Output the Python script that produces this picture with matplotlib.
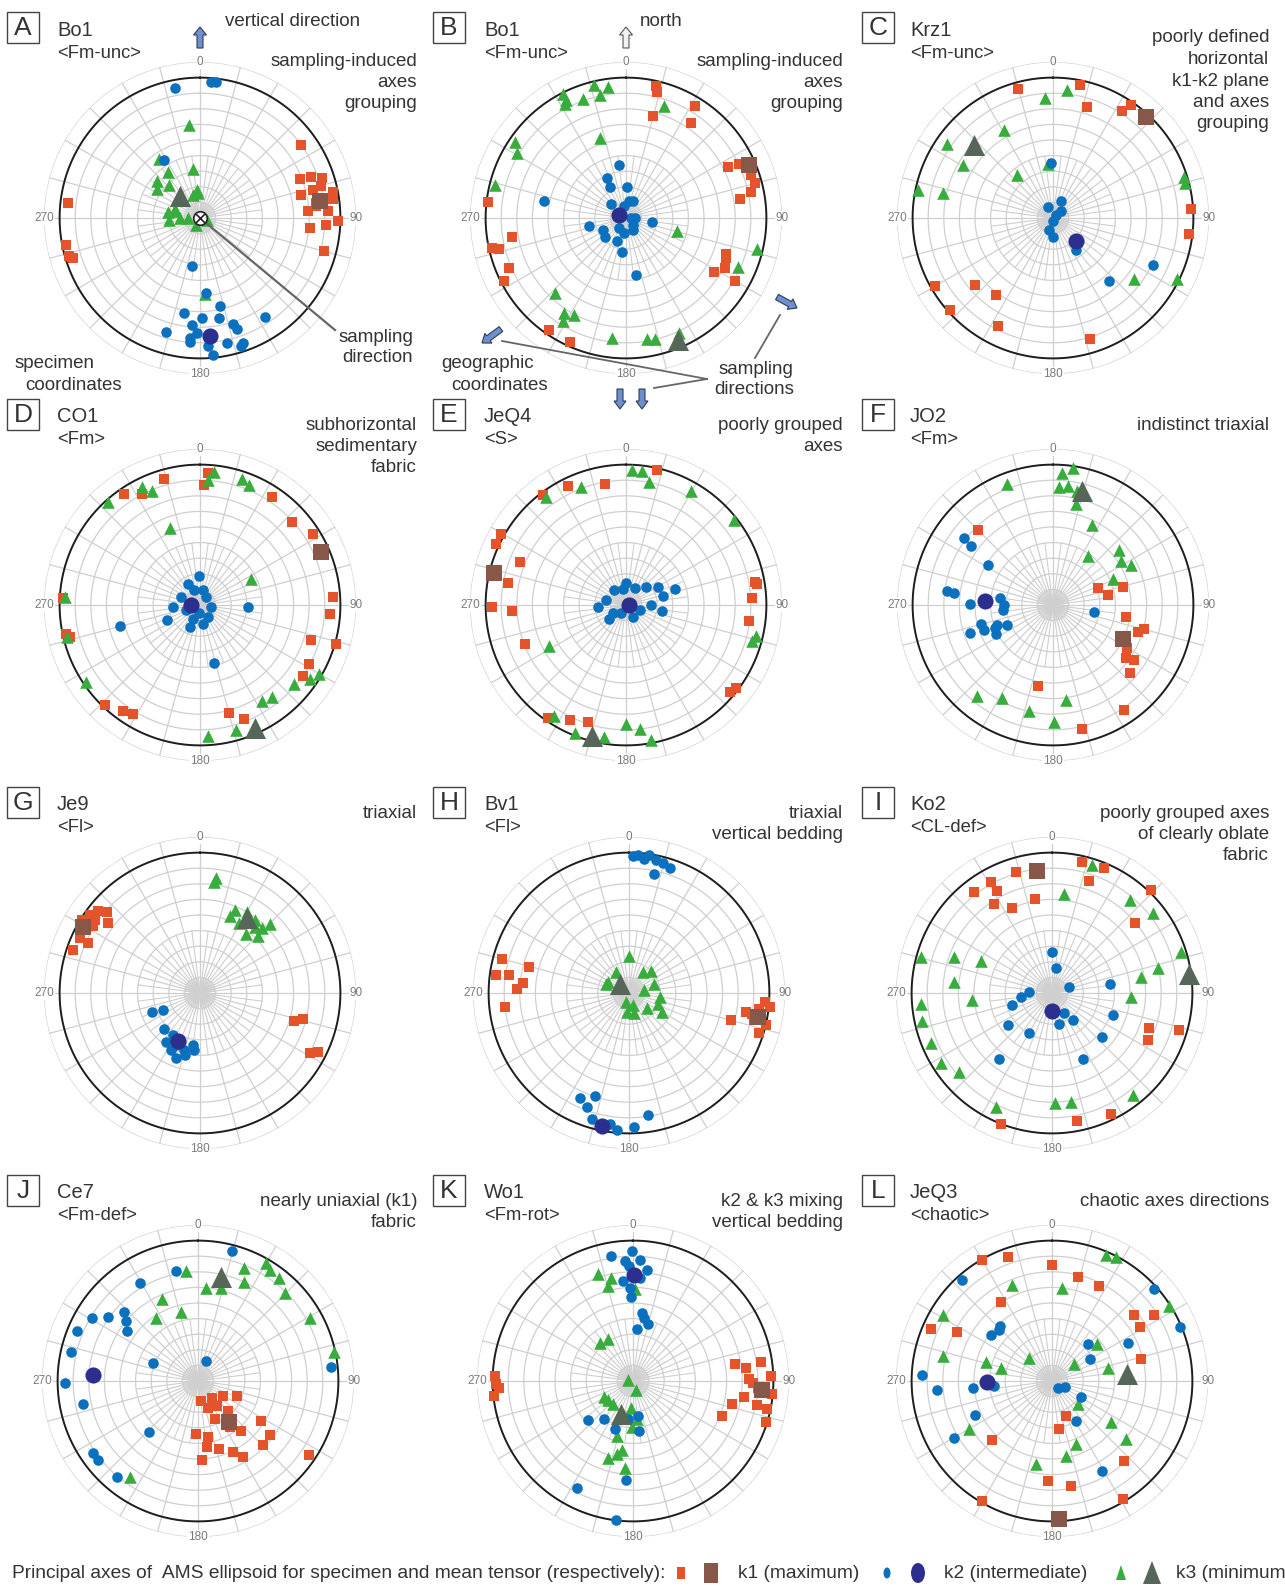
import numpy as np
import matplotlib
matplotlib.use('Agg')
import matplotlib.pyplot as plt
from matplotlib.patches import Rectangle, Ellipse, Polygon, FancyArrow

plt.rcParams['font.family'] = ['Liberation Sans', 'DejaVu Sans']

W, H = 1285, 1587
TXT = '#333333'
GRID = '#cfcfcf'
COL_K1, COL_K1M = '#e5532b', '#87584a'
COL_K2, COL_K2M = '#0b70be', '#2d2f8f'
COL_K3, COL_K3M = '#38ad3d', '#566658'

# principal axes per site: (azimuth in degrees, radial position 0-100, primitive at 90)
# means are listed as [k1, k2, k3]
A_K1 = [(54, 80), (69, 69), (70, 76), (72, 82), (76, 74.5), (77, 66.6), (79, 86.7), (86.5, 69.3), (87, 82),
        (91.4, 88.3), (93, 81), (95, 71), (105, 82.6), (75, 80), (82.7, 75), (82, 86), (84, 75),
        (276.5, 85), (258.5, 87.5), (253.8, 87.5), (252.6, 85)]
A_K2 = [(349, 85), (4.5, 87.5), (6.7, 88), (328, 44), (189, 31), (175.6, 48), (167, 58), (189.4, 61.5), (179, 64),
        (169, 65), (146.7, 76), (184, 69), (162.6, 71), (161.4, 75), (181.7, 73.5), (196.5, 76.5), (184.8, 77),
        (184.6, 79.5), (168, 82), (160.9, 84.5), (162, 86), (176.3, 82), (174.5, 88)]
A_K3 = [(353, 60), (325.6, 46), (325.8, 36), (351.7, 32), (310.7, 36), (317, 29), (304, 33.4), (353, 18),
        (342.5, 15.6), (285, 16.5), (267, 20), (270, 12.8), (270, 8), (209, 5.3), (104, 4.4), (176, 49),
        (356, 16), (290, 17), (280, 21)]
A_MEAN = [(82, 78), (175, 76), (317, 19)]

B_K1 = [(12.7, 87), (13.9, 83), (15, 67.6), (31.6, 84), (34.2, 73.8), (63.2, 73), (64.4, 80), (70.9, 84.5),
        (74.9, 85.5), (78.4, 81.5), (80.4, 74), (110, 68), (112, 69), (116.8, 70.8), (121.6, 66), (120, 80.4),
        (276.8, 89), (260.4, 73.8), (257.5, 88), (256.4, 84), (247, 81.5), (242.7, 88), (214.5, 87), (204.4, 87.6)]
B_K2 = [(352, 34.4), (334.6, 28.7), (333, 22), (2.5, 19.6), (281.7, 54), (313, 13), (352, 8), (9, 11), (22, 11.5),
        (90, 3.2), (92, 6), (99.5, 16.8), (257.4, 24.4), (241.4, 16.5), (228, 18.5), (213.7, 7.7), (201, 16),
        (189, 9.6), (150, 8.6), (132, 6.3), (186.7, 21.9), (170, 37)]
B_K3 = [(333, 89), (333, 85), (332, 83), (340.3, 81), (346.6, 87.5), (352, 84.5), (348, 80.5), (18.7, 76),
        (342, 53.6), (304.5, 86), (301, 81.5), (284, 86.6), (104.5, 34), (103.5, 86.4), (113.6, 78.5),
        (223.4, 66), (213.4, 72.6), (208.3, 70.8), (211.5, 77.4), (186.6, 77.7), (170, 79), (166.5, 80), (155, 81)]
B_MEAN = [(66.8, 86), (294, 5.1), (156.7, 85)]

C_K1 = [(344.7, 86), (11.4, 87), (16.8, 74.4), (32.8, 81.7), (34.6, 88), (86.1, 88.7), (96.5, 87.8), (240, 87),
        (229.3, 66), (216.6, 61.5), (228.4, 88.7), (207, 77.5), (162.8, 81)]
C_K2 = [(357.6, 35), (24.7, 11.7), (337, 8), (180, 2), (45, 3), (199, 8), (46, 6.8), (180, 12.3), (144.4, 25),
        (137.9, 54), (115.3, 70.6)]
C_K3 = [(6.3, 82.8), (356, 77.4), (331, 64.5), (305, 83), (300.5, 67), (320, 36), (355, 35), (281.8, 88.5),
        (282.8, 72), (72.5, 88.3), (75, 87.7), (127.3, 65), (116.4, 88.6)]
C_MEAN = [(42.6, 88), (135, 21), (312.9, 68.8)]

D_K1 = [(3.6, 85), (2, 77), (344, 83.8), (332.3, 80.4), (325.6, 86), (272.8, 87.7), (33.8, 83), (48, 79.5),
        (58, 85.7), (86.5, 85.3), (94, 83.3), (107.8, 74.4), (106.2, 90.6), (118.2, 79.6), (124.7, 80),
        (164.8, 72), (159, 78), (223.5, 88.6), (216, 84), (211.4, 82), (258, 88), (256, 86)]
D_K2 = [(358, 18.8), (330, 15.7), (338, 10.5), (11, 10), (37, 6.5), (292, 13), (266, 17.6), (250, 9.6),
        (187, 5.3), (207, 10), (146, 9.4), (100, 7.3), (171, 12.5), (204, 15.7), (245.6, 23.5), (255, 53),
        (166, 38), (92.4, 30.5)]
D_K3 = [(3.8, 80.3), (333.8, 84.6), (337, 79.5), (318.4, 88.5), (338.6, 52.8), (273.5, 87), (18.3, 84.8),
        (22, 83), (63, 37), (147.3, 73), (142, 75), (130, 79), (124, 85), (120, 88), (235.8, 88), (256.3, 87.6),
        (164, 83.6), (176.5, 84), (6, 86)]
D_MEAN = [(66.4, 84.4), (270, 6), (156, 86.6)]

E_K1 = [(13, 89), (350, 78.5), (334.2, 85), (323, 88.6), (299.6, 91.9), (295, 91.8), (291.8, 73.4), (280.6, 77),
        (269, 86), (267, 73), (249, 69.5), (79.7, 84), (81, 85), (86.8, 80.6), (97.5, 79.3), (127, 88.5),
        (129.9, 87), (214.5, 88), (205.8, 82), (198.1, 79)]
E_K2 = [(0, 14), (349, 10.6), (321, 12.5), (28, 12.5), (48, 17.5), (60.6, 23.8), (71.6, 32.8), (76, 24.7),
        (266, 18), (238, 9.9), (230.5, 14), (212, 6), (150, 9), (110, 9.6), (99.5, 23.7), (90, 16.2), (284, 13.4)]
E_K3 = [(2.6, 86.5), (7, 86.5), (10.8, 80), (339, 81), (323.6, 86), (29.7, 84), (51.6, 88), (103.6, 85.5),
        (106, 84), (242.2, 55.8), (213, 84.5), (201.6, 88), (189.6, 85.6), (180, 76.6), (173.5, 79.7), (169.4, 88)]
E_MEAN = [(283.8, 87), (90, 2), (194.7, 87)]

F_K1 = [(315, 68), (68.9, 30.6), (75.4, 46.3), (99.5, 47.4), (105, 60.5), (108, 57), (113, 51), (120, 55),
        (126, 58), (131.4, 65.8), (190.6, 52.8), (145.8, 81), (166.6, 81.5), (80, 36), (124, 63)]
F_K2 = [(306.9, 71.4), (305.6, 64.7), (301.4, 48.7), (277.6, 68.8), (277, 64), (277.7, 34), (270, 31.5),
        (264, 32), (270.7, 53), (250, 47), (250, 38), (248, 40), (242.6, 41), (246, 32), (251, 56), (255, 48),
        (100, 26.4)]
F_K3 = [(8.4, 88.6), (4, 85), (7.2, 77), (3, 75.5), (12, 75), (339.4, 83), (13, 66.6), (25.7, 57), (36, 38.6),
        (49.8, 55), (66.2, 42), (63, 56), (57, 52), (219.8, 76), (208.5, 68), (192.9, 70), (179.5, 74.7),
        (172, 61.6)]
F_MEAN = [(116.2, 50), (273.4, 43.6), (14, 75.6)]

G_K1 = [(308.8, 83.6), (310.8, 79), (305.5, 86.6), (307.4, 74), (302, 80.6), (301.8, 89), (294.6, 84.6),
        (294, 78.4), (288.9, 86), (305, 82), (106.8, 63), (104, 68), (118.6, 80.3), (116.8, 84.5)]
G_K2 = [(247.9, 33), (245.6, 25.8), (224.7, 32.5), (212.6, 31.7), (207.4, 40.9), (200.3, 44.4), (193.5, 41),
        (188, 33.5), (186, 36.5), (215, 38), (205, 37), (196, 38)]
G_K3 = [(7.8, 74.4), (7, 72), (22.8, 58), (21.4, 52.8), (29.3, 51.5), (37.7, 47.8), (36.9, 58.8), (43.5, 57.5),
        (45.3, 63), (45.8, 52), (40, 55), (30, 60)]
G_MEAN = [(299.7, 86), (204, 34), (32.3, 56.8)]

H_K1 = [(285, 84.5), (277.8, 86), (278.7, 77.5), (284.7, 66.5), (275.4, 68.5), (272, 72), (263.5, 79.8),
        (93.8, 87.2), (99.8, 79.7), (99.4, 75.7), (105, 67.9), (103.3, 90), (107, 86.9), (95.8, 91), (97, 84),
        (102, 82)]
H_K2 = [(3.8, 88.5), (6.5, 86.3), (8.4, 89.3), (11.6, 86.9), (14.9, 86), (18.4, 84.2), (12, 78.3), (1.7, 88),
        (198, 69.6), (204.8, 74.4), (200, 78), (196.6, 84), (188.4, 84.7), (177.8, 85.8), (171, 79.5), (185, 88)]
H_K3 = [(0, 24), (328, 16), (297.6, 15.4), (33.7, 16.4), (45, 20), (290, 16), (200, 6), (160, 8), (80, 10),
        (70, 17.3), (97, 20.3), (110, 20), (120, 24.7), (130, 15), (186, 12.4), (165, 13)]
H_MEAN = [(100.7, 84), (191.6, 86.9), (315, 8.3)]

I_K1 = [(343.2, 80.7), (331.4, 81.3), (335, 60), (331.9, 74.4), (322.4, 82), (350, 61.3), (13.1, 86),
        (22.4, 87), (18.4, 76), (49.9, 69.6), (44, 91.4), (110, 66.4), (115.8, 68.5), (106.5, 84.6), (154, 86),
        (168.8, 83.4), (201.2, 90), (327, 68)]
I_K2 = [(10, 16), (70.6, 11.7), (272.5, 15), (253.3, 27), (262, 20), (234, 35), (210.5, 29.4), (167, 20.6),
        (142, 22.2), (150, 15), (81, 37.5), (110, 41.5), (131.3, 43), (154.5, 46.8), (218.7, 54), (0, 26)]
I_K3 = [(17.6, 85.8), (7, 64), (51.7, 82.7), (72.5, 86.5), (77, 70), (79.7, 58), (93, 50.7), (285.6, 87),
        (290.4, 67), (293.9, 50), (276.5, 63.4), (264.9, 51.5), (265, 84), (258, 85), (247.8, 84), (237.9, 84.3),
        (229.7, 78.3), (178.4, 70.8), (170, 71), (141.6, 83.6), (206, 81.6), (40, 78)]
I_MEAN = [(353, 79), (180, 11.7), (82, 88.5)]

J_K1 = [(171.5, 13.1), (140.5, 14.3), (159.7, 18.7), (142.8, 20.4), (121, 18.9), (111, 27), (135, 27.5),
        (155.9, 27), (182.2, 33.8), (169.7, 36.3), (144.6, 35.8), (139.4, 41.9), (122.8, 47.9), (126.7, 57.5),
        (134.5, 58.3), (149.6, 56.5), (172, 42.6), (177, 50.7), (162.6, 45.6), (123.6, 85.7), (153.4, 50.8)]
J_K2 = [(329.6, 73), (300.6, 79), (305.3, 70.8), (313, 64.8), (292.2, 84), (283, 83.3), (269, 85), (305, 55.5),
        (292, 30.9), (22, 14), (84, 86), (258.5, 75), (223.8, 45), (235.7, 81.8), (231.8, 81.8), (220, 80.6),
        (348.6, 72), (14.9, 86), (310, 60)]
J_K3 = [(353.7, 71), (21.9, 78.4), (29.8, 87.5), (33, 85), (38, 84), (44.7, 79.4), (14, 61.6), (60.8, 82.6),
        (78, 89), (336.6, 57.3), (346, 45.5), (326.5, 48.3), (215.2, 75.5), (25, 70), (5, 60)]
J_MEAN = [(142.2, 32.9), (273.3, 67.6), (12.6, 68.5)]

K_K1 = [(272, 88.7), (268.6, 88), (267, 86), (263.8, 89.6), (80.7, 66.3), (83.3, 73), (81.4, 82.8), (87.9, 88.3),
        (89, 74.4), (98.2, 71.9), (102.9, 65), (111.5, 61.1), (100.9, 81.2), (101.9, 88), (107, 89), (95.5, 89.7),
        (91, 77), (93, 80)]
K_K2 = [(359.4, 83.3), (350.2, 81.3), (356, 77), (3.3, 77.7), (358, 73.7), (7.4, 71.7), (3.7, 66.4),
        (354.5, 64.4), (358, 59.9), (358.4, 54), (7.8, 44.2), (9.9, 41.2), (15.1, 37.6), (4.8, 33.2),
        (228.6, 38.1), (217.6, 30.5), (171.9, 22.7), (187, 24.7), (201, 32.7), (173, 32.3), (184.2, 63.8),
        (207.7, 77.7), (186.8, 90)]
K_K3 = [(342, 71.9), (347.7, 67.4), (345.3, 63), (1, 58.8), (319.3, 32.4), (329.4, 31.5), (277, 3.2), (164, 6.2),
        (241, 21.2), (232, 20), (220, 19.6), (185, 17.2), (173.5, 24.7), (180.8, 29.5), (195.9, 36.7),
        (188.7, 45), (192, 48), (197.9, 52), (185.5, 55.8)]
K_MEAN = [(94, 83.1), (0.5, 68), (200.7, 22.4)]

L_K1 = [(329.9, 89.4), (340.6, 84), (0, 74.1), (14.2, 68.8), (26.6, 67.8), (327.2, 60.3), (293.1, 84.3),
        (297.3, 68.5), (51.3, 67.6), (57.2, 78), (58.5, 66.2), (76.3, 58.7), (158.2, 24.2), (171.3, 30.9),
        (225.3, 54.1), (137.9, 69.1), (182.5, 64.2), (169.7, 68.4), (210.3, 89), (149.2, 88.4)]
L_K2 = [(318.2, 86.9), (47.9, 88.4), (316.8, 48.3), (314, 47), (306.8, 48.8), (67.2, 89.3), (44.2, 32.8),
        (63.5, 54.2), (60.3, 28), (272.5, 83.6), (265.5, 73.9), (265.2, 51), (265, 37), (139.6, 5.6),
        (114.8, 9.2), (118.9, 21.2), (245.9, 53.8), (149, 29.9), (240, 72.8), (151, 66)]
L_K3 = [(23.2, 87.9), (27.2, 89.6), (337.2, 66.8), (6.1, 60.2), (57.3, 88.9), (301.1, 81.4), (283, 71.5),
        (286, 44), (284, 33.7), (315, 21.2), (50.8, 37.2), (51.3, 17.8), (76.5, 36.7), (130.7, 22.3),
        (124.8, 46), (128.3, 60.4), (159, 43), (169.4, 48.9), (191, 54), (239.7, 61.4)]
L_MEAN = [(177, 88.4), (269, 41.9), (84.9, 48)]

# panel labels
LETTERS = list('ABCDEFGHIJKL')
SITES = ['Bo1', 'Bo1', 'Krz1', 'CO1', 'JeQ4', 'JO2', 'Je9', 'Bv1', 'Ko2', 'Ce7', 'Wo1', 'JeQ3']
CLASSES = ['<Fm-unc>', '<Fm-unc>', '<Fm-unc>', '<Fm>', '<S>', '<Fm>', '<Fl>', '<Fl>', '<CL-def>',
           '<Fm-def>', '<Fm-rot>', '<chaotic>']
NOTES = [['sampling-induced', 'axes', 'grouping'],
         ['sampling-induced', 'axes', 'grouping'],
         ['poorly defined', 'horizontal', 'k1-k2 plane', 'and axes', 'grouping'],
         ['subhorizontal', 'sedimentary', 'fabric'],
         ['poorly grouped', 'axes'],
         ['indistinct triaxial'],
         ['triaxial'],
         ['triaxial', 'vertical bedding'],
         ['poorly grouped axes', 'of clearly oblate', 'fabric'],
         ['nearly uniaxial (k1)', 'fabric'],
         ['k2 & k3 mixing', 'vertical bedding'],
         ['chaotic axes directions']]
K1_SETS = [A_K1, B_K1, C_K1, D_K1, E_K1, F_K1, G_K1, H_K1, I_K1, J_K1, K_K1, L_K1]
K2_SETS = [A_K2, B_K2, C_K2, D_K2, E_K2, F_K2, G_K2, H_K2, I_K2, J_K2, K_K2, L_K2]
K3_SETS = [A_K3, B_K3, C_K3, D_K3, E_K3, F_K3, G_K3, H_K3, I_K3, J_K3, K_K3, L_K3]
MEANS = [A_MEAN, B_MEAN, C_MEAN, D_MEAN, E_MEAN, F_MEAN, G_MEAN, H_MEAN, I_MEAN, J_MEAN, K_MEAN, L_MEAN]

# layout in pixels
ROW_Y = [218, 605, 993, 1381]
CENTER_X = [[200, 626, 1053], [200, 626, 1053], [200, 629, 1052], [198, 633, 1052]]
BOX_X = [7, 433, 862]
NAME_X = [57, 484, 910]
NOTE_X = [417, 843, 1269]
R_PX = 156

fig = plt.figure(figsize=(W / 100, H / 100), dpi=100)
ov = fig.add_axes([0, 0, 1, 1], zorder=5)
ov.set_xlim(0, W)
ov.set_ylim(H, 0)
ov.axis('off')


def polar_net(ax):
    th = np.linspace(0, 2 * np.pi, 361)
    for rr in range(10, 101, 10):
        ax.plot(th, np.full_like(th, rr), color=GRID, lw=0.9, zorder=1)
    for a in np.arange(0, 360, 15):
        ax.plot([np.radians(a)] * 2, [0, 100], color=GRID, lw=0.9, zorder=1)
    for a in np.arange(7.5, 360, 15):
        ax.plot([np.radians(a)] * 2, [0, 40], color=GRID, lw=0.8, zorder=1)
    for a in np.arange(0, 360, 5):
        ax.plot([np.radians(a)] * 2, [0, 10], color=GRID, lw=0.45, zorder=1)
    ax.plot(th, np.full_like(th, 90), color='#1e1e1e', lw=1.4, zorder=2)
    for ang, lab in zip([0, 90, 180, 270], ['0', '90', '180', '270']):
        ax.text(np.radians(ang), 100, lab, ha='center', va='center', fontsize=8.5, color='#7a7a7a',
                bbox=dict(fc='white', ec='none', pad=0.6), zorder=3)


def pts(data):
    a = np.array(data, dtype=float)
    return np.radians(a[:, 0]), a[:, 1]


for i in range(12):
    row, col = divmod(i, 3)
    cx, cy = CENTER_X[row][col], ROW_Y[row]
    ax = fig.add_axes([(cx - R_PX) / W, (H - cy - R_PX) / H, 2 * R_PX / W, 2 * R_PX / H],
                      projection='polar', zorder=2)
    ax.set_theta_zero_location('N')
    ax.set_theta_direction(-1)
    ax.set_ylim(0, 100)
    ax.grid(False)
    ax.set_xticks([])
    ax.set_yticks([])
    ax.spines['polar'].set_visible(False)
    ax.patch.set_alpha(0)
    polar_net(ax)

    t, r = pts(K1_SETS[i])
    ax.scatter(t, r, marker='s', s=62, c=COL_K1, linewidths=0, clip_on=False, zorder=4)
    t, r = pts(K3_SETS[i])
    ax.scatter(t, r, marker='^', s=82, c=COL_K3, linewidths=0, clip_on=False, zorder=5)
    t, r = pts(K2_SETS[i])
    ax.scatter(t, r, marker='o', s=58, c=COL_K2, linewidths=0, clip_on=False, zorder=6)
    m = MEANS[i]
    ax.scatter(np.radians(m[0][0]), m[0][1], marker='s', s=135, c=COL_K1M, linewidths=0, clip_on=False, zorder=7)
    ax.scatter(np.radians(m[2][0]), m[2][1], marker='^', s=230, c=COL_K3M, linewidths=0, clip_on=False, zorder=7)
    ax.scatter(np.radians(m[1][0]), m[1][1], marker='o', s=135, c=COL_K2M, linewidths=0, clip_on=False, zorder=8)

    # header texts
    ov.add_patch(Rectangle((BOX_X[col], cy - 206), 32, 31, fc='white', ec='#444444', lw=1.0))
    ov.text(BOX_X[col] + 16, cy - 190, LETTERS[i], ha='center', va='center', fontsize=19, color=TXT)
    ov.text(NAME_X[col], cy - 188, SITES[i], ha='left', va='center', fontsize=14.5, color=TXT)
    ov.text(NAME_X[col], cy - 165, CLASSES[i], ha='left', va='center', fontsize=13.2, color=TXT)
    y0 = cy - 157 if i < 2 else cy - 180
    for j, line in enumerate(NOTES[i]):
        ov.text(NOTE_X[col], y0 + 21.5 * j, line, ha='right', va='center', fontsize=13.5, color=TXT)

# panel A extras: vertical direction, sampling direction, coordinates
ov.add_patch(FancyArrow(200, 48, 0, -21, width=6, head_width=13, head_length=8, length_includes_head=True,
                        fc='#6d8fcb', ec='#2f3d5a', lw=0.8))
ov.text(225, 21, 'vertical direction', ha='left', va='center', fontsize=13.5, color=TXT)
ov.plot([200, 335], [218, 330], color='#666666', lw=1.6, zorder=6)
ov.scatter([200], [218], s=95, marker='o', facecolors='white', edgecolors='#222222', linewidths=1.2, zorder=7)
ov.scatter([200], [218], s=40, marker='x', c='#222222', linewidths=1.2, zorder=8)
ov.text(413, 337, 'sampling', ha='right', va='center', fontsize=13.5, color=TXT)
ov.text(413, 357, 'direction', ha='right', va='center', fontsize=13.5, color=TXT)
ov.text(55, 364, 'specimen', ha='center', va='center', fontsize=13.5, color=TXT)
ov.text(74, 385, 'coordinates', ha='center', va='center', fontsize=13.5, color=TXT)

# panel B extras: north, sampling directions, coordinates
ov.add_patch(FancyArrow(626, 48, 0, -21, width=6, head_width=13, head_length=8, length_includes_head=True,
                        fc='#f2f2f2', ec='#555555', lw=0.8))
ov.text(640, 21, 'north', ha='left', va='center', fontsize=13.5, color=TXT)
arrow_kw = dict(width=6, head_width=12, head_length=8, length_includes_head=True, fc='#6d8fcb', ec='#2f3d5a', lw=0.8)
ov.add_patch(FancyArrow(777, 297, 20, 11, **arrow_kw))
ov.add_patch(FancyArrow(501, 329, -19, 14, **arrow_kw))
ov.add_patch(FancyArrow(620, 389, 0, 20, **arrow_kw))
ov.add_patch(FancyArrow(642, 389, 0, 20, **arrow_kw))
ov.plot([502, 707], [341, 379], color='#666666', lw=1.3)
ov.plot([654, 707], [388, 379], color='#666666', lw=1.3)
ov.plot([755, 780], [358, 315], color='#666666', lw=1.3)
ov.text(488, 364, 'geographic', ha='center', va='center', fontsize=13.5, color=TXT)
ov.text(500, 385, 'coordinates', ha='center', va='center', fontsize=13.5, color=TXT)
ov.text(756, 369, 'sampling', ha='center', va='center', fontsize=13.5, color=TXT)
ov.text(754, 389, 'directions', ha='center', va='center', fontsize=13.5, color=TXT)

# legend line at the bottom
LY = 1573
ov.text(12, LY, 'Principal axes of  AMS ellipsoid for specimen and mean tensor (respectively):',
        ha='left', va='center', fontsize=13.8, color=TXT)
ov.add_patch(Rectangle((677, LY - 6), 8, 12, fc=COL_K1, ec='none'))
ov.add_patch(Rectangle((704, LY - 10), 14, 20, fc=COL_K1M, ec='none'))
ov.text(738, LY, 'k1 (maximum)', ha='left', va='center', fontsize=13.8, color=TXT)
ov.add_patch(Ellipse((887, LY), 7, 11, fc=COL_K2, ec='none'))
ov.add_patch(Ellipse((918, LY), 14, 20, fc=COL_K2M, ec='none'))
ov.text(944, LY, 'k2 (intermediate)', ha='left', va='center', fontsize=13.8, color=TXT)
ov.add_patch(Polygon([(1116, LY + 7), (1126, LY + 7), (1121, LY - 8)], fc=COL_K3, ec='none'))
ov.add_patch(Polygon([(1143, LY + 11), (1161, LY + 11), (1152, LY - 12)], fc=COL_K3M, ec='none'))
ov.text(1176, LY, 'k3 (minimum', ha='left', va='center', fontsize=13.8, color=TXT)

fig.savefig('out.png', dpi=100)
